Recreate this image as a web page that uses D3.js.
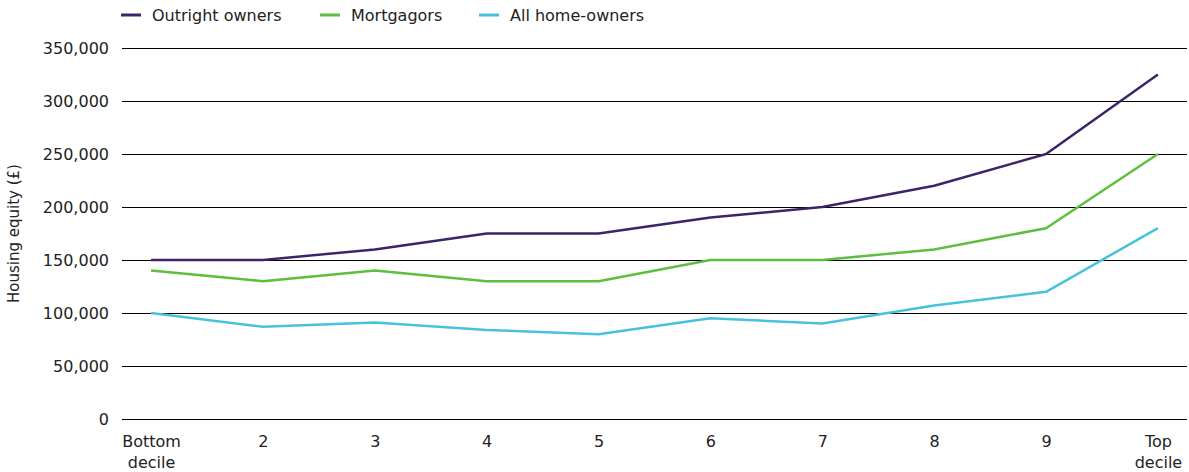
<!DOCTYPE html>
<html>
<head>
<meta charset="utf-8">
<script src="https://cdn.jsdelivr.net/npm/d3@7"></script>
<style>
  body { margin: 0; background: #fff; }
  svg { display: block; font-family: "DejaVu Sans", sans-serif; }
</style>
</head>
<body>
<script>
const deciles = ["Bottom decile", "2", "3", "4", "5", "6", "7", "8", "9", "Top decile"];
const outright = [150000, 150000, 160000, 175000, 175000, 190000, 200000, 220000, 250000, 325000];
const mortgagors = [140000, 130000, 140000, 130000, 130000, 150000, 150000, 160000, 180000, 250000];
const allOwners = [100000, 87000, 91000, 84000, 80000, 95000, 90000, 107000, 120000, 180000];
const yTicks = [0, 50000, 100000, 150000, 200000, 250000, 300000, 350000];

const seriesNames = ["Outright owners", "Mortgagors", "All home-owners"];
const seriesColors = ["#3d2468", "#5cbf3e", "#47c2dd"];
const series = [outright, mortgagors, allOwners];

const width = 1189;
const height = 472;
const margin = { left: 122, right: 2, top: 48, bottom: 53 };

const svg = d3.select("body")
    .append("svg")
    .attr("width", width)
    .attr("height", height);

const x = d3.scalePoint()
    .domain(deciles)
    .range([margin.left, width - margin.right])
    .padding(0.26);

const y = d3.scaleLinear()
    .domain([0, 350000])
    .range([height - margin.bottom, margin.top]);

// gridlines + y labels
const yAxis = svg.append("g")
    .attr("transform", `translate(${margin.left},0)`)
    .call(d3.axisLeft(y)
        .tickValues(yTicks)
        .tickSize(-(width - margin.left - margin.right))
        .tickPadding(13)
        .tickFormat(d3.format(",")));
yAxis.select(".domain").remove();
yAxis.selectAll(".tick line").attr("stroke", "#000").attr("stroke-width", 1);
yAxis.selectAll(".tick text")
    .attr("fill", "#222")
    .style("font-size", "16px")
    .style("font-family", "DejaVu Sans");

// x labels
const xAxis = svg.append("g")
    .attr("transform", `translate(0,${height - margin.bottom})`)
    .call(d3.axisBottom(x).tickSize(0).tickPadding(0));
xAxis.select(".domain").remove();
xAxis.selectAll(".tick text").remove();
xAxis.selectAll(".tick").each(function(d) {
    const t = d3.select(this).append("text")
        .attr("fill", "#222")
        .attr("text-anchor", "middle")
        .style("font-size", "16px")
        .style("font-family", "DejaVu Sans");
    d.split(" ").forEach((w, i) => {
        t.append("tspan").attr("x", 0).attr("y", 28 + i * 21).text(w);
    });
});

// y title
svg.append("text")
    .attr("transform", `translate(19,${(margin.top + height - margin.bottom) / 2}) rotate(-90)`)
    .attr("text-anchor", "middle")
    .attr("fill", "#222")
    .style("font-size", "15px")
    .text("Housing equity (£)");

// lines
const line = d3.line()
    .x((d, i) => x(deciles[i]))
    .y(d => y(d));

series.forEach((s, i) => {
    svg.append("path")
        .datum(s)
        .attr("fill", "none")
        .attr("stroke", seriesColors[i])
        .attr("stroke-width", 2.5)
        .attr("stroke-linejoin", "round")
        .attr("d", line);
});

// legend
const legendX = [121, 320, 479];
const legend = svg.append("g");
seriesNames.forEach((name, i) => {
    const g = legend.append("g").attr("transform", `translate(${legendX[i]},15)`);
    g.append("line")
        .attr("x1", 0).attr("x2", 20)
        .attr("stroke", seriesColors[i])
        .attr("stroke-width", 3);
    g.append("text")
        .attr("x", 31)
        .attr("y", 6)
        .attr("fill", "#222")
        .style("font-size", "16px")
        .text(name);
});
</script>
</body>
</html>
